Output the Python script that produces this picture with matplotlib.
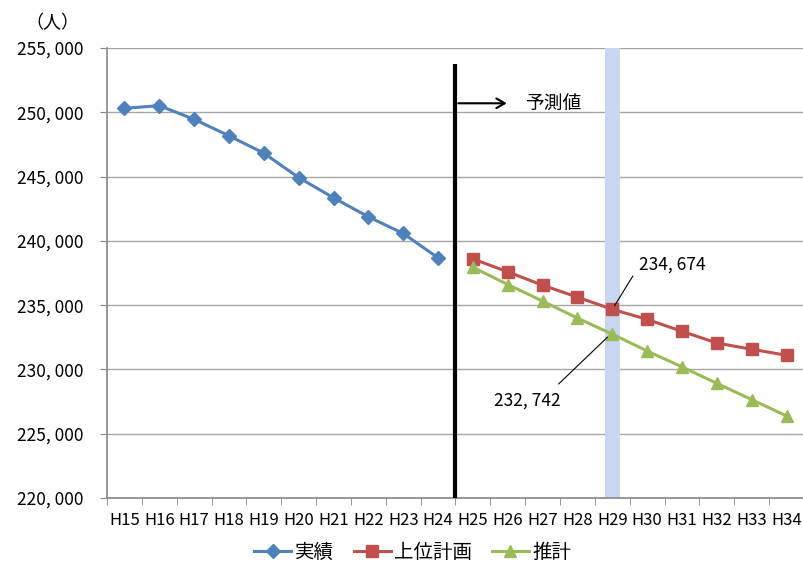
import matplotlib.pyplot as plt
import matplotlib.ticker as mticker

plt.rcParams['font.family'] = ['Noto Sans CJK JP', 'DejaVu Sans']

# data
years = ["H%d" % y for y in range(15, 35)]
actual = [250311, 250514, 249455, 248170, 246823, 244922, 243350, 241870, 240576, 238676]
plan = [238596, 237589, 236550, 235620, 234674, 233892, 232962, 232055, 231567, 231102]
estimate = [237945, 236604, 235310, 233993, 232742, 231435, 230195, 228915, 227652, 226380]

x_act = list(range(0, 10))
x_fut = list(range(10, 20))

fig = plt.figure(figsize=(8.04, 5.63), dpi=100)
ax = fig.add_axes([107/804, 1-498/563, 697/804, 450/563])

# highlight band for H29
ax.axvspan(14 - 0.215, 14 + 0.215, color="#C6D7EF", zorder=1, lw=0)

ax.plot(x_act, actual, color="#4F81BD", lw=2.2, marker="D", ms=7, label="実績", zorder=3)
ax.plot(x_fut, plan, color="#C0504D", lw=2.2, marker="s", ms=8.5, label="上位計画", zorder=3)
ax.plot(x_fut, estimate, color="#9BBB59", lw=2.2, marker="^", ms=8.5, label="推計", zorder=3)

# boundary of forecast
ax.plot([9.5, 9.5], [220000, 253750], color="black", lw=3, zorder=4, solid_capstyle="butt")
ax.annotate("", xy=(11.05, 250700), xytext=(9.5, 250700),
            arrowprops=dict(arrowstyle="->,head_length=0.6,head_width=0.35", color="black", lw=1.5),
            zorder=4)
ax.text(11.5, 250700, "予測値", fontsize=13.5, va="center", ha="left")

# value labels with leader lines
ax.annotate("", xy=(14.0, plan[4]), xytext=(14.59, 237270),
            arrowprops=dict(arrowstyle="-", color="black", lw=0.8, shrinkA=0, shrinkB=3))
ax.text(14.76, 238120, "234, 674", fontsize=12.5, va="center", ha="left")
ax.annotate("", xy=(13.95, estimate[4]), xytext=(12.46, 228870),
            arrowprops=dict(arrowstyle="-", color="black", lw=0.8, shrinkA=0, shrinkB=3))
ax.text(11.57, 227550, "232, 742", fontsize=12.5, va="center", ha="center")

ax.set_xlim(-0.5, 19.5)
ax.set_ylim(220000, 255000)
ax.set_yticks(range(220000, 255001, 5000))
ax.yaxis.set_major_formatter(mticker.FuncFormatter(lambda v, p: "{:,}".format(int(v)).replace(",", ", ")))
ax.set_xticks(range(20))
ax.set_xticklabels(years, fontsize=12)
ax.set_xticks([i - 0.5 for i in range(21)], minor=True)
ax.tick_params(axis="x", which="major", length=0, pad=10)
ax.tick_params(axis="x", which="minor", length=5, color="#888888", direction="out")
ax.tick_params(axis="y", length=5, color="#888888", labelsize=12.5, pad=12)

ax.grid(axis="y", color="#A6A6A6", lw=1, zorder=0)
ax.set_axisbelow(True)
for s in ["top", "right"]:
    ax.spines[s].set_visible(False)
for s in ["left", "bottom"]:
    ax.spines[s].set_color("#888888")
    ax.spines[s].set_linewidth(1.2)

fig.text(52/804, 1-23/563, "（人）", fontsize=13, ha="center", va="center")

fig.legend(loc="center", bbox_to_anchor=(413/804, 1-552/563), ncol=3, frameon=False,
           fontsize=14, handlelength=1.9, columnspacing=1.0, handletextpad=0.2)

fig.savefig("out.png", dpi=100)
